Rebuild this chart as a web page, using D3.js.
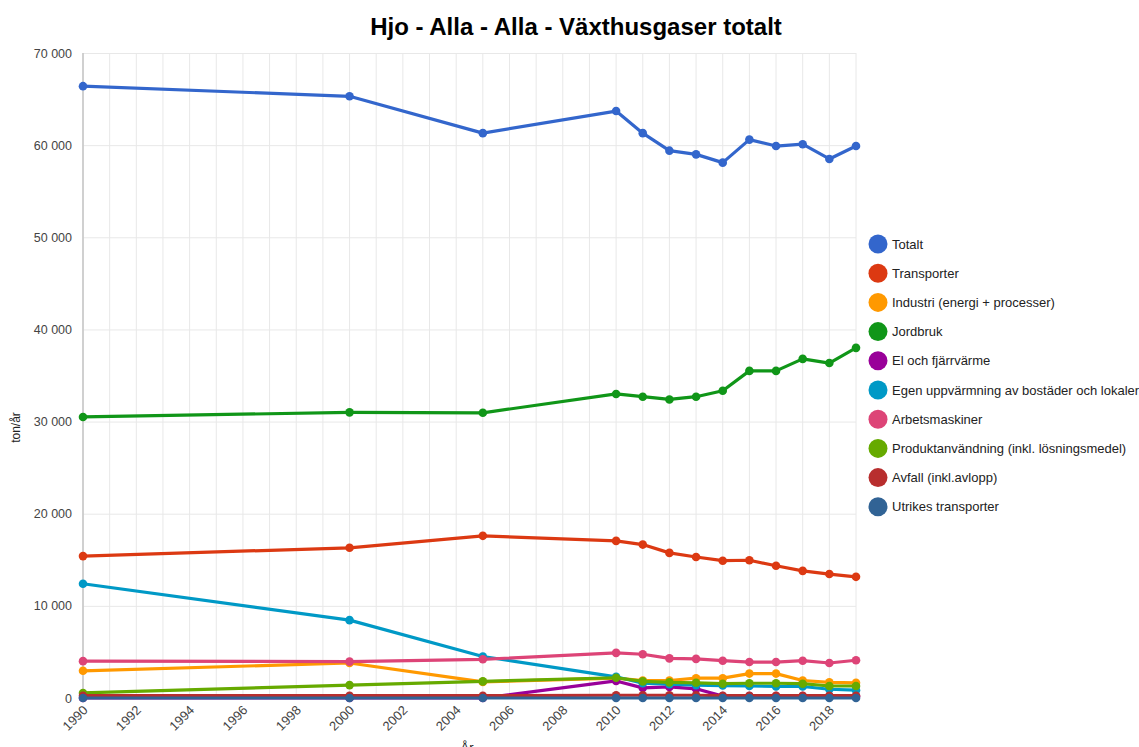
<!DOCTYPE html>
<html>
<head>
<meta charset="utf-8">
<script src="https://cdn.jsdelivr.net/npm/d3@7"></script>
<style>
  body { margin: 0; background: #fff; font-family: Arial, "Liberation Sans", sans-serif; }
</style>
</head>
<body>
<div class="chart"></div>
<script>
// data (ton/år)
const years = [1990, 2000, 2005, 2010, 2011, 2012, 2013, 2014, 2015, 2016, 2017, 2018, 2019];
const seriesNames = [
    "Totalt",
    "Transporter",
    "Industri (energi + processer)",
    "Jordbruk",
    "El och fjärrvärme",
    "Egen uppvärmning av bostäder och lokaler",
    "Arbetsmaskiner",
    "Produktanvändning (inkl. lösningsmedel)",
    "Avfall (inkl.avlopp)",
    "Utrikes transporter"
];
const totalt      = [66400, 65300, 61300, 63700, 61300, 59400, 59000, 58100, 60600, 59900, 60100, 58500, 59900];
const transporter = [15400, 16300, 17600, 17050, 16650, 15750, 15300, 14900, 14950, 14350, 13800, 13450, 13150];
const industri    = [2950, 3800, 1750, 2150, 1900, 1900, 2150, 2150, 2650, 2650, 1900, 1700, 1650];
const jordbruk    = [30500, 31000, 30950, 33000, 32700, 32400, 32700, 33350, 35500, 35500, 36800, 36350, 38000];
const elFjarr     = [0, 0, 0, 1850, 1100, 1200, 1000, 200, 200, 200, 200, 200, 200];
const egenUppv    = [12400, 8450, 4500, 2300, 1600, 1500, 1400, 1350, 1300, 1250, 1250, 950, 850];
const arbetsmask  = [4000, 3950, 4200, 4900, 4750, 4300, 4250, 4050, 3900, 3900, 4050, 3800, 4100];
const produkt     = [550, 1400, 1800, 2200, 1800, 1700, 1650, 1550, 1600, 1600, 1550, 1300, 1300];
const avfall      = [250, 250, 250, 300, 300, 300, 300, 250, 250, 250, 250, 250, 250];
const utrikes     = [0, 0, 0, 0, 0, 0, 0, 0, 0, 0, 0, 0, 0];
const yTicks = [0, 10000, 20000, 30000, 40000, 50000, 60000, 70000];
const xTickYears = d3.range(1990, 2019, 2);

const allValues = [totalt, transporter, industri, jordbruk, elFjarr, egenUppv, arbetsmask, produkt, avfall, utrikes];
const colors = ["#3366cc", "#dc3912", "#ff9900", "#109618", "#990099", "#0099c6", "#dd4477", "#66aa00", "#b82e2e", "#316395"];

const series = seriesNames.map((name, i) => ({
    name: name,
    color: colors[i],
    values: years.map((y, j) => ({year: y, value: allValues[i][j]}))
}));

const width = 1139, height = 747;
const margin = {top: 53, right: 283, bottom: 49, left: 83};

const svg = d3.select('.chart')
    .append('svg')
    .attr("width", width)
    .attr("height", height)
    .style("font-family", "Arial, 'Liberation Sans', sans-serif");

const xScale = d3.scaleLinear()
    .domain([1990, 2019])
    .range([margin.left, width - margin.right]);
const yScale = d3.scaleLinear()
    .domain([0, 70000])
    .range([height - margin.bottom, margin.top]);

const fmt = v => d3.format(",")(v).replace(/,/g, " ");

// vertical gridlines every year
svg.append("g")
    .selectAll("line")
    .data(d3.range(1990, 2020))
    .join("line")
    .attr("x1", d => xScale(d))
    .attr("x2", d => xScale(d))
    .attr("y1", margin.top)
    .attr("y2", height - margin.bottom)
    .attr("stroke", "#e8e8e8")
    .attr("stroke-width", 1);

// y axis
svg.append("g")
    .attr("transform", `translate(${margin.left},0)`)
    .call(d3.axisLeft(yScale).tickValues(yTicks).tickFormat(fmt).tickSize(0).tickPadding(11))
    .call(g => g.select(".domain").remove())
    .call(g => g.selectAll(".tick line").clone()
        .attr("x2", width - margin.left - margin.right)
        .attr("stroke", "#e8e8e8"))
    .call(g => g.selectAll(".tick text")
        .attr("fill", "#444")
        .attr("font-size", 12.5));

// left axis line
svg.append("line")
    .attr("x1", margin.left).attr("x2", margin.left)
    .attr("y1", margin.top).attr("y2", height - margin.bottom)
    .attr("stroke", "#c4c4c4")
    .attr("stroke-width", 1.5);

// x axis labels
svg.append("g")
    .attr("transform", `translate(0,${height - margin.bottom})`)
    .call(d3.axisBottom(xScale).tickValues(xTickYears).tickFormat(d3.format("d")).tickSize(0))
    .call(g => g.select(".domain").remove())
    .call(g => g.selectAll(".tick text")
        .attr("fill", "#444")
        .attr("font-size", 13)
        .attr("text-anchor", "end")
        .attr("dy", null)
        .attr("y", 0)
        .attr("transform", "translate(5,13) rotate(-45)"));

// axis titles (x title sits at the bottom edge, partly cut as in the original)
svg.append("text")
    .attr("x", 467)
    .attr("y", 752)
    .attr("text-anchor", "middle")
    .attr("font-size", 13)
    .attr("fill", "#222")
    .text("År");
svg.append("text")
    .attr("transform", `translate(20,${(margin.top + height - margin.bottom) / 2 + 52}) rotate(-90)`)
    .attr("text-anchor", "middle")
    .attr("font-size", 12)
    .attr("fill", "#222")
    .text("ton/år");

// title
svg.append("text")
    .attr("x", 576)
    .attr("y", 35)
    .attr("text-anchor", "middle")
    .attr("font-size", 24)
    .attr("font-weight", "bold")
    .attr("fill", "#000")
    .text("Hjo - Alla - Alla - Växthusgaser totalt");

const line = d3.line()
    .x(d => xScale(d.year))
    .y(d => yScale(d.value));

const gs = svg.append("g")
    .selectAll("g")
    .data(series)
    .join("g");

gs.append("path")
    .attr("d", d => line(d.values))
    .attr("fill", "none")
    .attr("stroke", d => d.color)
    .attr("stroke-width", 3.2)
    .attr("stroke-linejoin", "round");

gs.selectAll("circle")
    .data(d => d.values.map(v => ({...v, color: d.color})))
    .join("circle")
    .attr("cx", d => xScale(d.year))
    .attr("cy", d => yScale(d.value))
    .attr("r", 4.3)
    .attr("fill", d => d.color);

// legend
const legend = svg.append("g")
    .selectAll("g")
    .data(series)
    .join("g")
    .attr("transform", (d, i) => `translate(878,${244 + i * 29.2})`);
legend.append("circle")
    .attr("r", 9.5)
    .attr("fill", d => d.color);
legend.append("text")
    .attr("x", 14)
    .attr("dy", "0.35em")
    .attr("font-size", 13)
    .attr("fill", "#222")
    .text(d => d.name);
</script>
</body>
</html>
